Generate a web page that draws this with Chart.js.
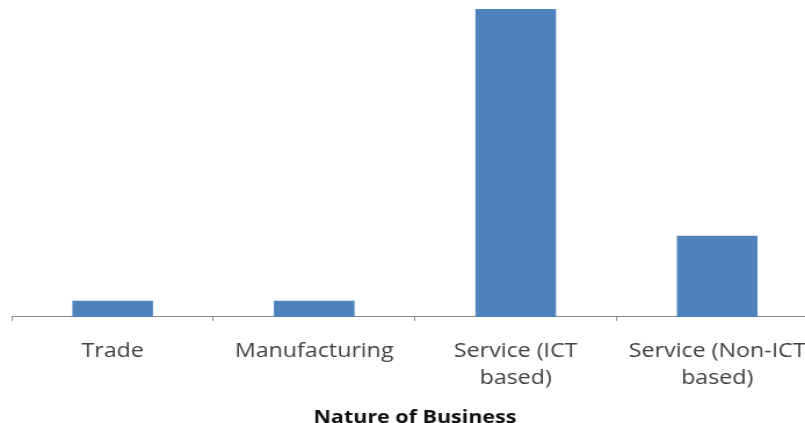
<!DOCTYPE html>
<html><head><meta charset="utf-8">
<script src="https://cdn.jsdelivr.net/npm/chart.js@4"></script>
<style>html,body{margin:0;padding:0;overflow:hidden;background:#fff;width:805px;height:423px}
#wrap{transform:scaleX(1.16);transform-origin:0 0;width:716px;height:423px}</style>
</head><body>
<div id="wrap"><canvas id="c" width="716" height="423"></canvas></div>
<script>
const categories = [["Trade"], ["Manufacturing"], ["Service (ICT", "based)"], ["Service (Non-ICT", "based)"]];
const counts = [1, 1, 19, 5];
const axisTitle = "Nature of Business";

new Chart(document.getElementById('c'), {
  type: 'bar',
  data: { labels: categories, datasets: [{ data: counts, backgroundColor: '#4F81BD', borderWidth: 0,
    categoryPercentage: 1, barPercentage: 0.4 }] },
  options: {
    responsive: false, animation: false,
    layout: { padding: { left: 10.3, right: 10.9, top: 9, bottom: -4.4 } },
    plugins: { legend: { display: false }, tooltip: { enabled: false } },
    scales: {
      y: { display: false, min: 0, max: 19 },
      x: {
        offset: true,
        grid: { offset: true, drawOnChartArea: false, drawTicks: true, tickLength: 4, color: '#8a8a8a' },
        border: { color: '#8a8a8a', width: 1 },
        ticks: { color: '#404040', font: { family: 'Open Sans', size: 20, lineHeight: 1.35 }, padding: 17, maxRotation: 0, autoSkip: false },
        title: { display: true, text: axisTitle, color: '#111', font: { family: 'Open Sans', size: 18.5, weight: 'bold', lineHeight: 1.0 }, padding: { top: 0, bottom: 0 } }
      }
    }
  }
});
</script>
</body></html>
